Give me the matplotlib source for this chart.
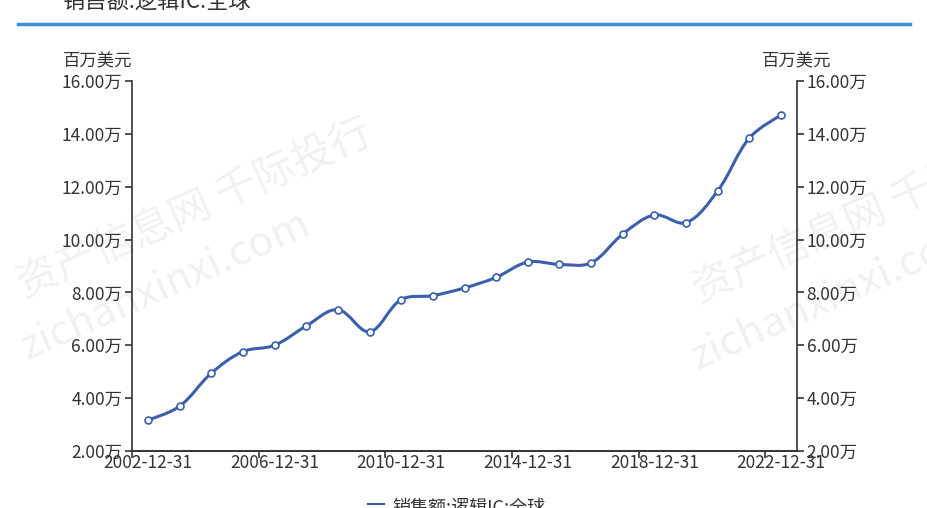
import matplotlib
matplotlib.use("Agg")
import matplotlib.pyplot as plt
import numpy as np
from matplotlib.path import Path
from matplotlib.patches import PathPatch
from matplotlib.ticker import FixedLocator, FuncFormatter

plt.rcParams['font.family'] = ['Noto Sans CJK SC', 'DejaVu Sans']

# categories (year ends) and sales of logic IC, in million USD
dates = ['2002-12-31', '2003-12-31', '2004-12-31', '2005-12-31', '2006-12-31',
         '2007-12-31', '2008-12-31', '2009-12-31', '2010-12-31', '2011-12-31',
         '2012-12-31', '2013-12-31', '2014-12-31', '2015-12-31', '2016-12-31',
         '2017-12-31', '2018-12-31', '2019-12-31', '2020-12-31', '2021-12-31',
         '2022-12-31']
sales = [31700, 36900, 49400, 57600, 60000, 67300, 73500, 65100, 77300, 78800,
         81700, 85700, 91500, 90600, 91200, 102100, 109300, 106400, 118500,
         138500, 147100]

title = '销售额:逻辑IC:全球'
unit = '百万美元'
line_color = '#3a5fae'
axis_color = '#333333'


def smooth_path(xs, ys, sx, sy, smooth=0.35):
    # bezier path through the points, like a smoothed line chart
    px = np.asarray(xs, float) * sx
    py = np.asarray(ys, float) * sy
    n = len(px)
    verts = [(px[0], py[0])]
    codes = [Path.MOVETO]
    cps = []
    for i in range(n):
        if i == 0 or i == n - 1:
            cps.append(((px[i], py[i]), (px[i], py[i])))
            continue
        vx, vy = px[i + 1] - px[i - 1], py[i + 1] - py[i - 1]
        d0 = np.hypot(px[i] - px[i - 1], py[i] - py[i - 1])
        d1 = np.hypot(px[i + 1] - px[i], py[i + 1] - py[i])
        r0 = d0 / (d0 + d1)
        r1 = d1 / (d0 + d1)
        cps.append(((px[i] - vx * smooth * r0, py[i] - vy * smooth * r0),
                    (px[i] + vx * smooth * r1, py[i] + vy * smooth * r1)))
    for i in range(1, n):
        verts += [cps[i - 1][1], cps[i][0], (px[i], py[i])]
        codes += [Path.CURVE4] * 3
    verts = [(a / sx, b / sy) for a, b in verts]
    return Path(verts, codes)


fig = plt.figure(figsize=(9.28, 5.08), dpi=100)
ax = fig.add_axes([132 / 928, 1 - 451 / 508, 665 / 928, 370 / 508])
ax2 = ax.twinx()

x = np.arange(len(dates))
# scale so smoothing works in pixel-like units
sx = 665 / len(dates)
sy = 370 / 140000
path = smooth_path(x, sales, sx, sy)
ax.add_patch(PathPatch(path, facecolor='none', edgecolor=line_color, lw=2.2, zorder=3))
ax.plot(x, sales, linestyle='none', marker='o', markersize=5, markerfacecolor='white',
        markeredgecolor=line_color, markeredgewidth=1.2, zorder=4)

for a in (ax, ax2):
    a.set_xlim(-0.5, len(dates) - 0.5)
    a.set_ylim(20000, 160000)
    a.set_yticks(np.arange(20000, 160001, 20000))
    a.yaxis.set_major_formatter(FuncFormatter(lambda v, p: '%.2f万' % (v / 10000)))
    a.spines['top'].set_visible(False)
    for s in ('left', 'right', 'bottom'):
        a.spines[s].set_color(axis_color)
        a.spines[s].set_linewidth(1.2)
    a.tick_params(axis='y', colors=axis_color, labelsize=12.5, length=5, width=1.2, pad=2)

ax.spines['right'].set_visible(False)
ax2.spines['left'].set_visible(False)

# ticks at the band edges, labels at the band centres
ax.xaxis.set_major_locator(FixedLocator(np.arange(-0.5, len(dates) - 0.5, 4)))
ax.xaxis.set_major_formatter(FuncFormatter(lambda v, p: ''))
ax.xaxis.set_minor_locator(FixedLocator(x[::4]))
ax.xaxis.set_minor_formatter(FuncFormatter(lambda v, p: dates[int(round(v))]))
ax.tick_params(axis='x', which='major', length=5, width=1.2, colors=axis_color)
ax.tick_params(axis='x', which='minor', length=0, labelsize=12.5, colors=axis_color, pad=2)

# unit labels above the two axes
fig.text(132 / 928, 1 - 61 / 508, unit, ha='right', va='center', fontsize=12.5, color=axis_color)
fig.text(797 / 928, 1 - 61 / 508, unit, ha='center', va='center', fontsize=12.5, color=axis_color)

# title cut off at the top, with a blue rule under it
fig.text(62 / 928, 1 - 2 / 508, title, ha='left', va='center', fontsize=16, color='#333333')
fig.add_artist(plt.Line2D([18 / 928, 910 / 928], [1 - 24 / 508, 1 - 24 / 508],
                          color='#3d8fd6', lw=2.5, transform=fig.transFigure))

# legend at the bottom, cut off
fig.add_artist(plt.Line2D([368 / 928, 384 / 928], [1 - 504 / 508, 1 - 504 / 508],
                          color=line_color, lw=1.5, transform=fig.transFigure))
fig.text(392 / 928, 1 - 508 / 508, '销售额:逻辑IC:全球', ha='left', va='center',
         fontsize=13, color=axis_color)

# watermarks
wm = dict(color='#000000', alpha=0.06, rotation=24, ha='center', va='center', zorder=0)
fig.text(195 / 928, 1 - 210 / 508, '资产信息网 千际投行', fontsize=30, **wm)
fig.text(165 / 928, 1 - 285 / 508, 'zichanxinxi.com', fontsize=30, **wm)
fig.text(870 / 928, 1 - 215 / 508, '资产信息网 千际投行', fontsize=30, **wm)
fig.text(835 / 928, 1 - 295 / 508, 'zichanxinxi.com', fontsize=30, **wm)

fig.savefig('out.png', dpi=100)
